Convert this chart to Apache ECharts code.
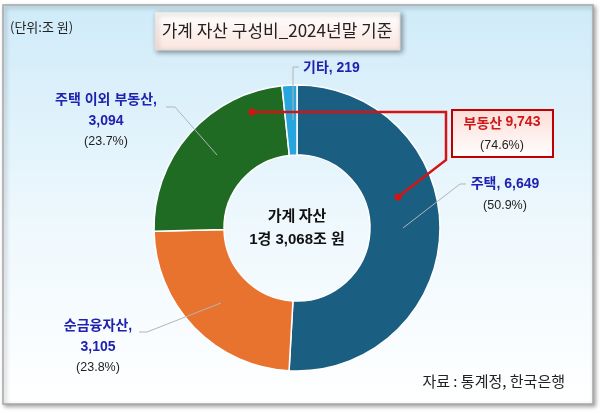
<!DOCTYPE html>
<html>
<head>
<meta charset="utf-8">
<script src="https://cdn.jsdelivr.net/npm/echarts@6/dist/echarts.min.js"></script>
<style>
  html, body { margin: 0; padding: 0; background: #fff; }
  #chart { width: 600px; height: 414px; }
</style>
</head>
<body>
<div id="chart"></div>
<script>
// 가계 자산 구성 (단위: 조 원), 2024년말
const categories = ['주택', '순금융자산', '주택 이외 부동산', '기타'];
const values = [6649, 3105, 3094, 219];
const colors = ['#1a5e82', '#e8732f', '#1f6b24', '#27a5dc'];
const totalText = '1경 3,068조 원';

const total = values.reduce((a, b) => a + b, 0);
const pct = v => (v / total * 100).toFixed(1);
const fmt = v => v.toLocaleString('en-US');
const realEstate = values[0] + values[2];

const FONT = "'Liberation Sans', 'Noto Sans CJK KR', sans-serif";
const KFONT = "'Noto Sans CJK KR', sans-serif";

// 라벨 위치 (화면 좌표)
const labelPos = [
  { x: 505, y: 195, align: 'center', line: [[403, 228], [460, 184], [466, 184]] },
  { x: 98, y: 347, align: 'center', line: [[221, 303], [147, 332], [139, 332]] },
  { x: 106, y: 121, align: 'center', line: [[217, 155], [175, 107], [166, 107]] },
  { x: 303, y: 68, align: 'left', line: [[293, 120], [293, 67], [299, 67]] }
];

const chart = echarts.init(document.getElementById('chart'));

// 라벨 연결선은 조각 위에 그려야 하므로 graphic으로 따로 그림
const guideLines = labelPos.map(lp => ({
  type: 'polyline', z: 9,
  shape: { points: lp.line },
  style: { stroke: '#b4b4b4', lineWidth: 1, fill: null }
}));

const option = {
  animation: false,
  graphic: [
    {
      type: 'rect', z: 0,
      shape: { x: 3, y: 5, width: 590, height: 399 },
      style: {
        fill: new echarts.graphic.LinearGradient(0, 0, 0, 1, [
          { offset: 0, color: '#cfebf9' },
          { offset: 0.55, color: '#eef8fd' },
          { offset: 1, color: '#ffffff' }
        ]),
        stroke: '#a8a8a8', lineWidth: 1.5,
        shadowBlur: 4, shadowColor: 'rgba(0,0,0,0.35)', shadowOffsetX: 2, shadowOffsetY: 2
      }
    },
    {
      type: 'text', z: 1, left: 10, top: 21,
      style: { text: '(단위:조 원)', font: '13px ' + KFONT, fill: '#222' }
    },
    {
      type: 'rect', z: 1,
      shape: { x: 155, y: 12, width: 245, height: 38 },
      style: {
        fill: new echarts.graphic.LinearGradient(0, 0, 0, 1, [
          { offset: 0, color: '#ffffff' },
          { offset: 1, color: '#fbe4de' }
        ]),
        stroke: '#dddddd', lineWidth: 1,
        shadowBlur: 5, shadowColor: 'rgba(0,0,0,0.4)', shadowOffsetX: 2, shadowOffsetY: 2
      }
    },
    {
      type: 'text', z: 2, x: 277, y: 31,
      style: {
        text: '가계 자산 구성비_2024년말 기준', font: '17px ' + KFONT, fill: '#222',
        align: 'center', verticalAlign: 'middle'
      }
    },
    {
      type: 'text', z: 10, x: 297, y: 215,
      style: {
        text: '가계 자산', font: 'bold 15px ' + KFONT, fill: '#111',
        align: 'center', verticalAlign: 'middle'
      }
    },
    {
      type: 'text', z: 10, x: 297, y: 240,
      style: {
        text: totalText, font: 'bold 15px ' + FONT, fill: '#111',
        align: 'center', verticalAlign: 'middle'
      }
    },
    ...guideLines,
    {
      type: 'polyline', z: 10,
      shape: { points: [[252, 112], [446, 112], [446, 160], [398, 197]] },
      style: { stroke: '#d41414', lineWidth: 2.5, fill: null }
    },
    { type: 'circle', z: 10, shape: { cx: 252, cy: 112, r: 3.5 }, style: { fill: '#d41414' } },
    { type: 'circle', z: 10, shape: { cx: 398, cy: 197, r: 3.5 }, style: { fill: '#d41414' } },
    {
      type: 'rect', z: 10,
      shape: { x: 452, y: 110, width: 101, height: 47 },
      style: {
        fill: new echarts.graphic.LinearGradient(0, 0, 0, 1, [
          { offset: 0, color: '#fcdcd6' },
          { offset: 1, color: '#ffffff' }
        ]),
        stroke: '#c00000', lineWidth: 2
      }
    },
    {
      type: 'text', z: 11, x: 502, y: 134,
      style: {
        text: '{a|부동산 }{b|' + fmt(realEstate) + '}\n{c|(' + pct(realEstate) + '%)}',
        align: 'center', verticalAlign: 'middle',
        rich: {
          a: { font: 'bold 14px ' + KFONT, fill: '#d01818', lineHeight: 23, align: 'center' },
          b: { font: 'bold 14px ' + FONT, fill: '#d01818', lineHeight: 23, align: 'center' },
          c: { font: '12.5px ' + FONT, fill: '#222', lineHeight: 23, align: 'center' }
        }
      }
    },
    {
      type: 'text', z: 2, x: 565, y: 381,
      style: {
        text: '자료 : 통계정, 한국은행', font: '15px ' + KFONT, fill: '#222',
        align: 'right', verticalAlign: 'middle'
      }
    }
  ],
  series: [{
    type: 'pie',
    center: [297, 228],
    radius: [73, 143],
    startAngle: 90,
    itemStyle: { borderColor: '#ffffff', borderWidth: 1.5 },
    data: categories.map((name, i) => ({
      name: name,
      value: values[i],
      itemStyle: { color: colors[i] }
    })),
    label: {
      show: true,
      color: '#222',
      formatter: p => {
        const i = p.dataIndex;
        if (i === 3) return '{n|' + p.name + ', ' + fmt(p.value) + '}';
        if (i === 0) return '{n|' + p.name + ', ' + fmt(p.value) + '}\n{p|(' + pct(p.value) + '%)}';
        return '{n|' + p.name + ',}\n{n|' + fmt(p.value) + '}\n{p|(' + pct(p.value) + '%)}';
      },
      rich: {
        n: { fontFamily: FONT, fontWeight: 'bold', fontSize: 14, color: '#1f22b0', lineHeight: 21, align: 'center' },
        p: { fontFamily: FONT, fontSize: 12.5, color: '#222', lineHeight: 21, align: 'center' }
      }
    },
    labelLine: { show: false },
    labelLayout: params => {
      const lp = labelPos[params.dataIndex];
      return { x: lp.x, y: lp.y, align: lp.align, verticalAlign: 'middle' };
    }
  }]
};

chart.setOption(option);
</script>
</body>
</html>
